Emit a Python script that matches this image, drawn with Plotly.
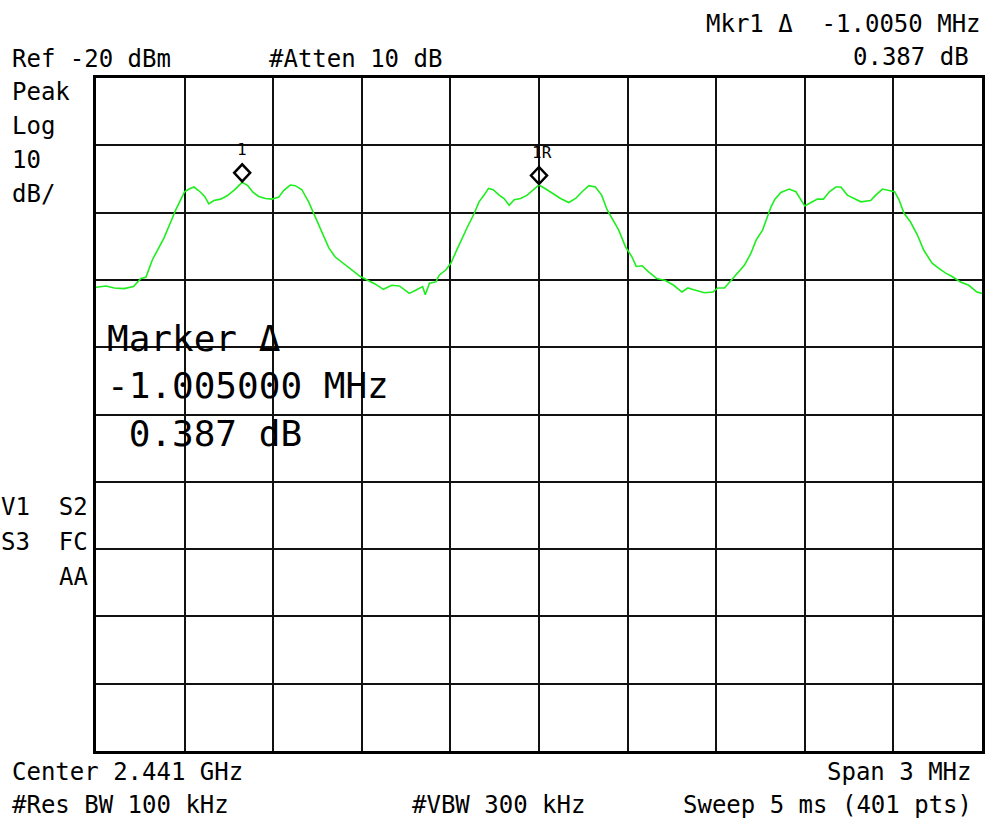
import plotly.graph_objects as go

# ---------------- data ----------------
center_mhz = 2441.0           # Center 2.441 GHz
span_mhz = 3.0                # Span 3 MHz
ref_level = -20.0             # Ref -20 dBm
db_per_div = 10.0

offset_mhz = [
    -1.500, -1.466, -1.438, -1.405, -1.373, -1.348, -1.331, -1.309, -1.292, -1.270,
    -1.247, -1.230, -1.211, -1.200, -1.185, -1.168, -1.148, -1.132, -1.118, -1.101,
    -1.078, -1.056, -1.033, -1.016, -1.005, -0.986, -0.968, -0.949, -0.926, -0.904,
    -0.881, -0.864, -0.842, -0.825, -0.803, -0.780, -0.763, -0.750, -0.729, -0.712,
    -0.690, -0.662, -0.634, -0.605, -0.583, -0.555, -0.527, -0.499,
    -0.473, -0.439, -0.416, -0.394, -0.385, -0.371, -0.349, -0.338, -0.315, -0.298,
    -0.281, -0.264, -0.242, -0.219, -0.203, -0.186, -0.171, -0.155, -0.135, -0.118,
    -0.101, -0.084, -0.062, -0.040, -0.020, 0.000, 0.023, 0.045, 0.073, 0.101,
    0.124, 0.146, 0.169, 0.191, 0.212, 0.231, 0.253, 0.270, 0.293, 0.315,
    0.329, 0.349, 0.371, 0.399, 0.428, 0.456, 0.484, 0.504,
    0.527, 0.560, 0.589, 0.605, 0.628, 0.651, 0.673, 0.696, 0.718, 0.735,
    0.757, 0.774, 0.786, 0.799, 0.819, 0.847, 0.870, 0.887, 0.900, 0.921,
    0.943, 0.963, 0.983, 1.005, 1.022, 1.044, 1.067, 1.090, 1.123, 1.140,
    1.163, 1.185, 1.204, 1.219, 1.236, 1.258, 1.281, 1.303, 1.331, 1.354,
    1.377, 1.399, 1.427, 1.455, 1.483, 1.500,
]

level_dbm = [
    -51.1, -50.9, -51.2, -51.3, -51.0, -49.8, -49.6, -47.0, -45.6, -43.8,
    -41.4, -39.6, -37.9, -36.9, -36.5, -36.2, -36.9, -37.6, -38.7, -38.2,
    -38.0, -37.5, -36.7, -35.9, -35.5, -36.0, -37.0, -37.6, -37.9, -38.0,
    -37.7, -36.7, -35.9, -36.0, -36.6, -38.4, -40.1, -41.6, -43.6, -45.2,
    -46.6, -47.5, -48.5, -49.5, -50.0, -50.6, -51.4, -50.8,
    -50.9, -52.0, -51.5, -51.0, -52.2, -50.5, -50.3, -49.3, -48.5, -47.5,
    -45.8, -44.1, -42.1, -40.1, -38.4, -37.4, -36.4, -36.6, -37.4, -37.9,
    -38.9, -38.1, -37.9, -37.4, -36.6, -35.9, -36.5, -37.1, -37.9, -38.5,
    -37.9, -36.9, -36.0, -36.2, -37.4, -39.6, -41.4, -42.6, -45.1, -46.6,
    -48.0, -47.9, -48.8, -49.8, -50.1, -50.8, -51.8, -51.2,
    -51.5, -51.9, -51.8, -51.2, -51.2, -50.0, -49.0, -47.8, -46.0, -44.1,
    -42.6, -40.6, -39.1, -38.0, -37.0, -36.5, -36.9, -38.1, -39.0, -38.5,
    -38.0, -38.0, -36.9, -36.2, -36.2, -37.4, -37.9, -38.4, -38.2, -37.4,
    -36.5, -36.7, -36.9, -38.1, -40.1, -41.4, -43.3, -45.6, -47.5, -48.3,
    -49.0, -49.5, -50.3, -50.8, -51.8, -52.0,
]

marker_offsets = [-1.005, 0.000]        # marker 1 and reference marker 1R
marker_levels = [-35.5, -35.9]
marker_labels = ["1", "1R"]

top_left = ["Ref -20 dBm", "#Atten 10 dB"]
top_right = ["Mkr1 \u0394  -1.0050 MHz", "0.387 dB"]
side_top = ["Peak", "Log", "10", "dB/"]
side_bottom = ["V1  S2", "S3  FC", "AA"]
big_lines = ["Marker \u0394", "-1.005000 MHz", " 0.387 dB"]
bottom_left = ["Center 2.441 GHz", "#Res BW 100 kHz"]
bottom_mid = "#VBW 300 kHz"
bottom_right = ["Span 3 MHz", "Sweep 5 ms (401 pts)"]

# ---------------- figure ----------------
W, H = 989, 823
L, R, T, B = 96, 985, 78, 751
FONT = "DejaVu Sans Mono"

freqs = [center_mhz + o for o in offset_mhz]
fig = go.Figure()
fig.add_trace(go.Scatter(
    x=freqs, y=level_dbm, mode="lines",
    line=dict(color="#1eee1e", width=1.6), hoverinfo="skip", showlegend=False,
))

x_lo = center_mhz - span_mhz / 2
x_hi = center_mhz + span_mhz / 2
y_hi = ref_level
y_lo = ref_level - 10 * db_per_div

fig.update_xaxes(range=[x_lo, x_hi], dtick=span_mhz / 10, tick0=x_lo,
                 showgrid=True, gridcolor="#111111", gridwidth=2,
                 showticklabels=False, ticks="", zeroline=False,
                 showline=True, linecolor="black", linewidth=3, mirror=True)
fig.update_yaxes(range=[y_lo, y_hi], dtick=db_per_div, tick0=y_lo,
                 showgrid=True, gridcolor="#111111", gridwidth=2,
                 showticklabels=False, ticks="", zeroline=False,
                 showline=True, linecolor="black", linewidth=3, mirror=True)


def px(x):
    return (x - L) / (R - L)


def py(y):
    return (B - y) / (B - T)


ann = []


def text(s, x, y, size=24, anchor="left"):
    ann.append(dict(text=s, x=px(x), y=py(y), xref="paper", yref="paper",
                    xanchor=anchor, yanchor="middle", showarrow=False,
                    font=dict(family=FONT, size=size, color="black")))


text(top_left[0], 10, 59)
text(top_left[1], 268, 59)
text(top_right[0], 986, 24, anchor="right")
text(top_right[1], 974, 57, anchor="right")
for i, s in enumerate(side_top):
    text(s, 10, 92 + i * 34)
for i, s in enumerate(side_bottom):
    text(s, 90, 507 + i * 35, anchor="right")
for i, s in enumerate(big_lines):
    text(s, 105, 338 + i * 47.5, size=36)
text(bottom_left[0], 10, 772)
text(bottom_left[1], 10, 805)
text(bottom_mid, 411, 805)
text(bottom_right[0], 977, 772, anchor="right")
text(bottom_right[1], 977, 805, anchor="right")

# marker diamonds and labels, anchored at the marker data points
shapes = []
for mo, ml, lab in zip(marker_offsets, marker_levels, marker_labels):
    mx = center_mhz + mo
    shapes.append(dict(type="path", xref="x", yref="y",
                       xsizemode="pixel", ysizemode="pixel",
                       xanchor=mx, yanchor=ml,
                       path="M 0,1 L 8,9.5 L 0,18 L -8,9.5 Z",
                       line=dict(color="black", width=2.5),
                       fillcolor="rgba(0,0,0,0)"))
    ann.append(dict(text=lab, x=mx, y=ml, xref="x", yref="y",
                    xanchor="center", yanchor="bottom", yshift=21,
                    xshift=(3 if len(lab) > 1 else 0),
                    showarrow=False,
                    font=dict(family=FONT, size=16, color="black")))

fig.update_layout(
    width=W, height=H,
    margin=dict(l=L, r=W - R, t=T, b=H - B, pad=0),
    paper_bgcolor="white", plot_bgcolor="white",
    annotations=ann, shapes=shapes, showlegend=False,
)

fig.write_html(
    "out.html",
    config={"displayModeBar": False, "staticPlot": True},
    post_script="document.body.style.margin='0';document.body.style.padding='0';"
                "document.body.style.overflow='hidden';",
)
